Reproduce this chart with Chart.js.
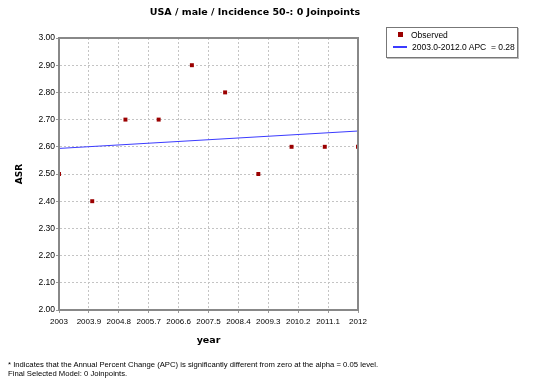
<!DOCTYPE html>
<html>
<head>
<meta charset="utf-8">
<script src="https://cdn.jsdelivr.net/npm/chart.js@4"></script>
<style>
  body { margin: 0; background: #fff; font-family: "Liberation Sans", Arial, sans-serif; }
  #wrap { position: relative; width: 539px; height: 387px; }
  #title { position: absolute; left: 0; width: 510px; top: 6px; text-align: center;
           font: bold 9.5px "DejaVu Sans", sans-serif; color: #000; }
  #legend { position: absolute; left: 386px; top: 27px; width: 130px; height: 29px;
            border: 1px solid #777; box-shadow: 1px 1px 0 #bbb; font-size: 8.5px; color: #000; }
  #legend .row { position: absolute; left: 0; white-space: pre; }
  #note { position: absolute; left: 8px; top: 360px; font-size: 7.7px; line-height: 9px; color: #000; }
</style>
</head>
<body>
<div id="wrap">
  <canvas id="chart" width="539" height="387"></canvas>
  <div id="title">USA / male / Incidence 50-: 0 Joinpoints</div>
  <div id="legend"></div>
  <div id="note">* Indicates that the Annual Percent Change (APC) is significantly different from zero at the alpha = 0.05 level.<br>Final Selected Model: 0 Joinpoints.</div>
</div>
<script>
// observed age-standardised rates
var years = [2003, 2004, 2005, 2006, 2007, 2008, 2009, 2010, 2011, 2012];
var observed = [2.5, 2.4, 2.7, 2.7, 2.9, 2.8, 2.5, 2.6, 2.6, 2.6];

// fitted joinpoint segment (0 joinpoints)
var fitYears = [2003, 2012];
var fitValues = [2.594, 2.658];

// x-axis tick labels
var xTicks = ['2003', '2003.9', '2004.8', '2005.7', '2006.6', '2007.5', '2008.4', '2009.3', '2010.2', '2011.1', '2012'];

var obsLabel = 'Observed';
var fitLabel = '2003.0-2012.0 APC  = 0.28';

var ctx = document.getElementById('chart').getContext('2d');
var myChart = new Chart(ctx, {
    type: 'scatter',
    data: {
        datasets: [{
            label: obsLabel,
            data: years.map((y, i) => ({ x: y, y: observed[i] })),
            pointStyle: 'rect',
            pointRadius: 2.8,
            backgroundColor: '#9b0000',
            borderColor: '#9b0000',
            borderWidth: 0,
            order: 1
        }, {
            label: fitLabel,
            type: 'line',
            data: fitYears.map((y, i) => ({ x: y, y: fitValues[i] })),
            borderColor: '#3b3bff',
            borderWidth: 1,
            pointRadius: 0,
            fill: false,
            order: 2
        }]
    },
    options: {
        responsive: false,
        animation: false,
        layout: { padding: { left: 0, right: 181, top: 38, bottom: 37 } },
        plugins: {
            legend: { display: false },
            tooltip: { enabled: false },
            title: { display: false }
        },
        scales: {
            x: {
                type: 'linear',
                min: 2003,
                max: 2012,
                afterBuildTicks: axis => {
                    axis.ticks = xTicks.map(t => ({ value: parseFloat(t) }));
                },
                afterFit: axis => { axis.height = 40; },
                ticks: {
                    callback: (v, i) => xTicks[i],
                    color: '#000',
                    font: { family: 'Liberation Sans', size: 8 },
                    maxRotation: 0,
                    autoSkip: false,
                    padding: 4
                },
                grid: { color: '#c4c4c4', tickLength: 3, tickColor: '#999' },
                border: { color: '#888', width: 2, dash: [2, 2] },
                title: {
                    display: true,
                    text: 'year',
                    color: '#000',
                    font: { family: 'DejaVu Sans', size: 9.5, weight: 'bold' },
                    padding: { top: 4 }
                }
            },
            y: {
                min: 2.0,
                max: 3.0,
                afterFit: axis => { axis.width = 59; },
                ticks: {
                    stepSize: 0.1,
                    callback: v => v.toFixed(2),
                    color: '#000',
                    font: { family: 'Liberation Sans', size: 8.5 },
                    padding: 1
                },
                grid: { color: '#c4c4c4', tickLength: 3, tickColor: '#999' },
                border: { color: '#888', width: 2, dash: [2, 2] },
                title: {
                    display: true,
                    text: 'ASR',
                    color: '#000',
                    font: { family: 'DejaVu Sans', size: 9, weight: 'bold' },
                    padding: { top: 14, bottom: 0 }
                }
            }
        }
    },
    plugins: [{
        id: 'frame',
        afterDatasetsDraw: chart => {
            var a = chart.chartArea, c = chart.ctx;
            c.save();
            c.setLineDash([]);
            c.strokeStyle = '#888';
            c.lineWidth = 2;
            c.strokeRect(a.left, a.top, a.right - a.left, a.bottom - a.top);
            c.restore();
        }
    }]
});

// legend built from the datasets
var lg = document.getElementById('legend');
lg.innerHTML =
    '<div class="row" style="top:2px"><span style="display:inline-block;width:5px;height:5px;background:#9b0000;margin:0 8px 2px 11px;vertical-align:middle"></span>' + obsLabel + '</div>' +
    '<div class="row" style="top:14px"><span style="display:inline-block;width:14px;height:1.5px;background:#3b3bff;margin:0 5px 2px 6px;vertical-align:middle"></span>' + fitLabel + '</div>';
</script>
</body>
</html>
